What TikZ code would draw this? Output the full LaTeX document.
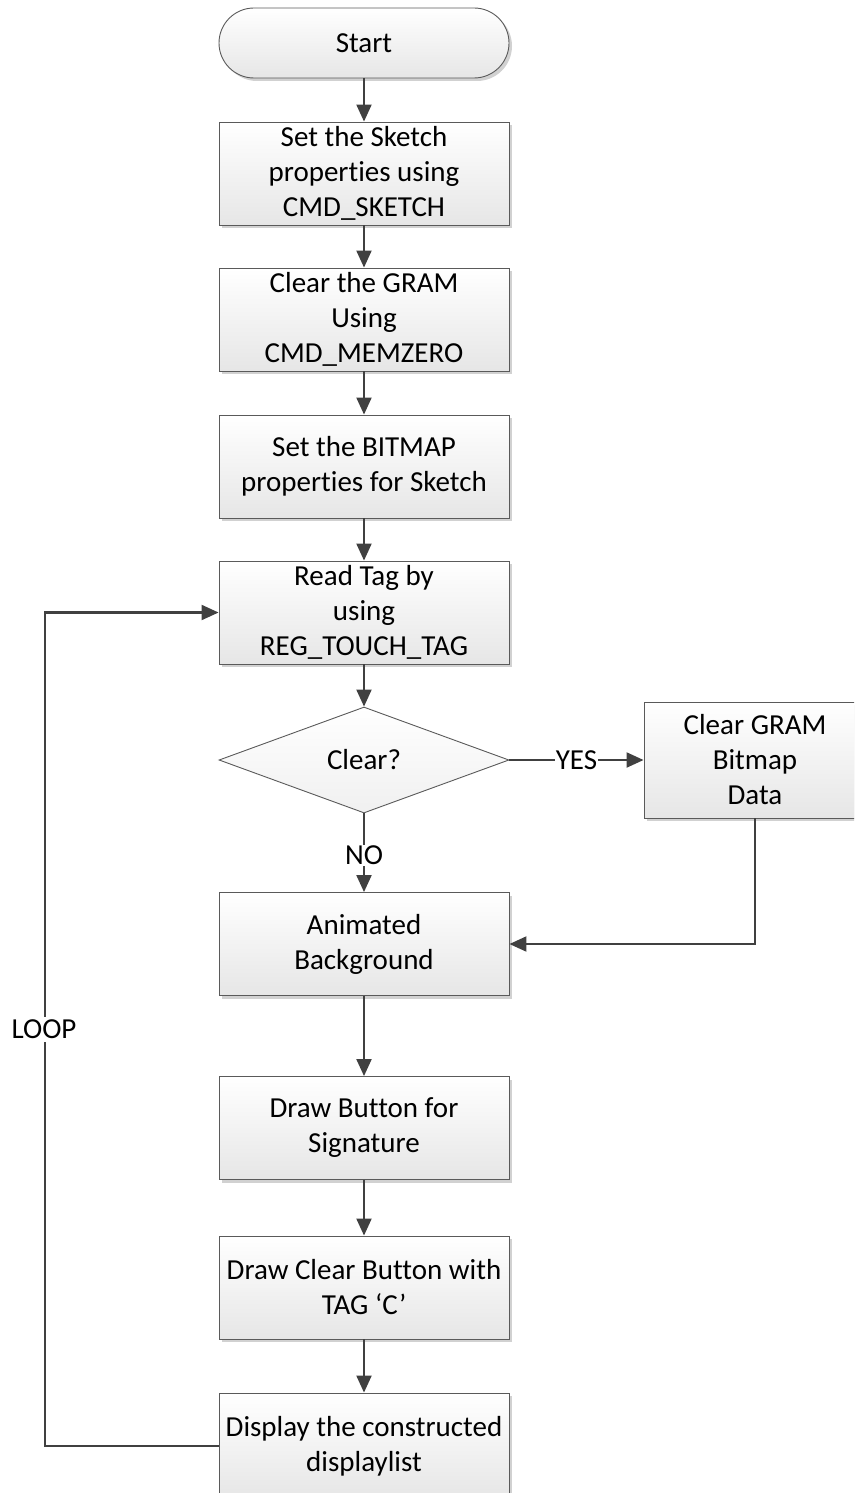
\documentclass[tikz,border=0pt]{standalone}
\usepackage{fontspec}
\setmainfont{Carlito}[Ligatures=CommonOff]
\usetikzlibrary{shapes.geometric,arrows.meta,shadows}
\definecolor{linec}{HTML}{404040}
\definecolor{borderc}{HTML}{5A5A5A}
\definecolor{botc}{HTML}{E6E6E6}
\tikzset{
  procbox/.style={rectangle, draw=borderc, line width=0.9pt, top color=white, bottom color=botc,
    minimum width=290pt, minimum height=103pt, align=center, inner sep=2pt,
    drop shadow={shadow xshift=3pt, shadow yshift=-3pt, fill=black, opacity=0.18}},
  termbox/.style={procbox, rounded corners=35pt, minimum height=70pt},
  decbox/.style={diamond, draw=borderc, line width=0.9pt, top color=white, bottom color=botc!60,
    minimum width=290pt, minimum height=106pt, aspect=2.7, inner sep=0pt},
  conn/.style={draw=linec, line width=2.1pt, -{Triangle[length=17pt,width=15pt]}},
  lbl/.style={fill=white, inner sep=1pt}
}
\begin{document}
\begin{tikzpicture}[x=1pt,y=-1pt,font=\fontsize{29}{35}\selectfont]
\useasboundingbox (0,0) rectangle (854,1493);
\clip (0,0) rectangle (854,1493);
\node[termbox] (start) at (364,43) {Start};
\node[procbox] (b1) at (364,173.5) {Set the Sketch\\properties using\\CMD\_SKETCH};
\node[procbox] (b2) at (364,319.5) {Clear the GRAM\\Using\\CMD\_MEMZERO};
\node[procbox] (b3) at (364,466.5) {Set the BITMAP\\properties for Sketch};
\node[procbox] (rt) at (364,612.5) {Read Tag by\\using\\REG\_TOUCH\_TAG};
\node[decbox] (dec) at (364,760) {Clear?};
\node[procbox, minimum width=222pt, minimum height=116pt] (cg) at (755,760) {Clear GRAM\\Bitmap\\Data};
\node[procbox] (anim) at (364,944) {Animated\\Background};
\node[procbox] (db) at (364,1128) {Draw Button for\\Signature};
\node[procbox] (dc) at (364,1287.5) {Draw Clear Button with\\TAG ‘C’};
\node[procbox, minimum height=106pt] (disp) at (364,1446) {Display the constructed\\displaylist};

\draw[conn] (start) -- (b1);
\draw[conn] (b1) -- (b2);
\draw[conn] (b2) -- (b3);
\draw[conn] (b3) -- (rt);
\draw[conn] (rt) -- (dec.north);
\draw[conn] (dec.east) -- node[lbl, pos=0.5] (yes) {YES} (cg.west);
\draw[conn] (dec.south) -- node[lbl, pos=0.53] (no) {NO} (anim.north);
\draw[conn] (cg.south) |- (anim.east);
\draw[conn] (anim) -- (db);
\draw[conn] (db) -- (dc);
\draw[conn] (dc) -- (disp);
\coordinate (l1) at (45,1446);
\coordinate (l2) at (45,612.5);
\draw[conn] (disp.west) -- (l1) -- (l2) -- (rt.west);
\node[lbl, inner sep=3pt] (loop) at (44,1029) {LOOP};
\end{tikzpicture}
\end{document}
